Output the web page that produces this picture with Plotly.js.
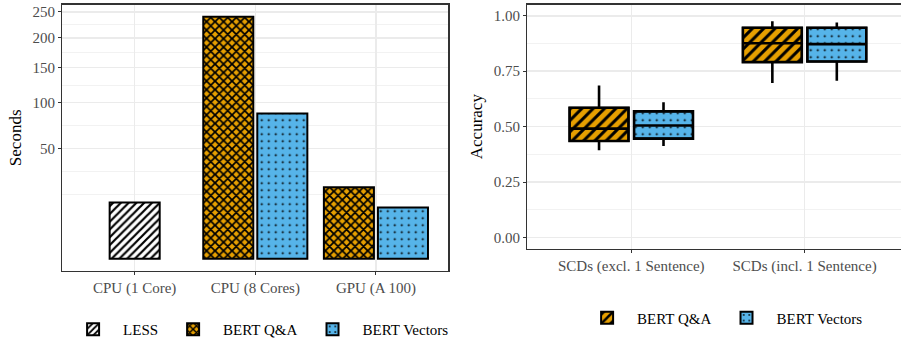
<!DOCTYPE html>
<html>
<head>
<meta charset="utf-8">
<script src="https://cdn.plot.ly/plotly-3.0.1.min.js"></script>
<style>html,body{margin:0;padding:0;background:#fff;}#chart{width:901px;height:346px;}</style>
</head>
<body>
<div id="chart"></div>
<script>
// ---- Left panel data: run time in seconds ----
const hardware = ['CPU (1 Core)', 'CPU (8 Cores)', 'GPU (A 100)'];
const lessSeconds = [13.0, null, null];
const qaSeconds = [null, 240, 21.0];
const vectorSeconds = [null, 86.4, 10.8];
const secondsTicks = [50, 100, 150, 200, 250];

// ---- Right panel data: accuracy box statistics ----
const scdSets = ['SCDs (excl. 1 Sentence)', 'SCDs (incl. 1 Sentence)'];
const qaLower = [0.393, 0.697];
const qaQ1 = [0.435, 0.791];
const qaMedian = [0.491, 0.876];
const qaQ3 = [0.585, 0.946];
const qaUpper = [0.685, 0.975];
const vecLower = [0.413, 0.707];
const vecQ1 = [0.446, 0.794];
const vecMedian = [0.505, 0.872];
const vecQ3 = [0.569, 0.946];
const vecUpper = [0.610, 0.970];
const accuracyTicks = [0, 0.25, 0.5, 0.75, 1];

const ORANGE = '#E69F00', BLUE = '#56B4E9';
const serif = 'Liberation Serif, Times New Roman, serif';
const sq = v => (v == null ? null : Math.sqrt(v));

// sqrt-scale helpers (axis transform)
const majorT = secondsTicks.map(Math.sqrt);
const ext = [majorT[0] - (majorT[1] - majorT[0])].concat(majorT, [majorT[majorT.length - 1] + (majorT[majorT.length - 1] - majorT[majorT.length - 2])]);
const minorT = [];
for (let i = 0; i < ext.length; i++) {
  if (i === 0 || i === ext.length - 1) minorT.push(ext[i]);
  if (i < ext.length - 1) minorT.push((ext[i] + ext[i + 1]) / 2);
}
const allSecs = [].concat(lessSeconds, qaSeconds, vectorSeconds).filter(v => v != null);
const maxT = Math.sqrt(Math.max(...allSecs));
const yRangeLeft = [-0.05 * maxT, 1.05 * maxT];

const barW = 0.415, barGap = 0.033;
const boxW = 0.34, boxC = 0.186;

const traces = [
  {type: 'bar', name: 'LESS', x: hardware, y: lessSeconds.map(sq), xaxis: 'x', yaxis: 'y',
   width: barW, offset: -barW / 2, legend: 'legend',
   marker: {color: 'white', line: {color: 'black', width: 2},
            pattern: {shape: '/', fgcolor: 'black', bgcolor: 'white', size: 5.5, solidity: 0.4}}},
  {type: 'bar', name: 'BERT Q&A', x: hardware, y: qaSeconds.map(sq), xaxis: 'x', yaxis: 'y',
   width: barW, offset: -barGap / 2 - barW, legend: 'legend',
   marker: {color: ORANGE, line: {color: 'black', width: 2},
            pattern: {shape: 'x', fgcolor: 'black', bgcolor: ORANGE, size: 6, solidity: 0.5}}},
  {type: 'bar', name: 'BERT Vectors', x: hardware, y: vectorSeconds.map(sq), xaxis: 'x', yaxis: 'y',
   width: barW, offset: barGap / 2, legend: 'legend',
   marker: {color: BLUE, line: {color: 'black', width: 2},
            pattern: {shape: '.', fgcolor: 'black', bgcolor: BLUE, size: 7, solidity: 0.07}}},
  // right panel patterned box bodies
  {type: 'bar', name: 'BERT Q&A', x: scdSets, base: qaQ1, y: qaQ3.map((v, i) => v - qaQ1[i]),
   xaxis: 'x2', yaxis: 'y2', width: boxW, offset: -boxC - boxW / 2, legend: 'legend2',
   marker: {color: ORANGE, line: {color: 'black', width: 2},
            pattern: {shape: '/', fgcolor: 'black', bgcolor: ORANGE, size: 8, solidity: 0.38}}},
  {type: 'bar', name: 'BERT Vectors', x: scdSets, base: vecQ1, y: vecQ3.map((v, i) => v - vecQ1[i]),
   xaxis: 'x2', yaxis: 'y2', width: boxW, offset: boxC - boxW / 2, legend: 'legend2',
   marker: {color: BLUE, line: {color: 'black', width: 2},
            pattern: {shape: '.', fgcolor: 'black', bgcolor: BLUE, size: 7, solidity: 0.07}}},
  // right panel box outlines, medians, whiskers
  {type: 'box', name: 'BERT Q&A', x: scdSets, q1: qaQ1, median: qaMedian, q3: qaQ3,
   lowerfence: qaLower, upperfence: qaUpper, xaxis: 'x2', yaxis: 'y2', showlegend: false,
   offsetgroup: 'qa', alignmentgroup: 'acc',
   fillcolor: 'rgba(0,0,0,0)', line: {color: 'black', width: 2.6}, whiskerwidth: 0, boxpoints: false, hoverinfo: 'skip'},
  {type: 'box', name: 'BERT Vectors', x: scdSets, q1: vecQ1, median: vecMedian, q3: vecQ3,
   lowerfence: vecLower, upperfence: vecUpper, xaxis: 'x2', yaxis: 'y2', showlegend: false,
   offsetgroup: 'vec', alignmentgroup: 'acc',
   fillcolor: 'rgba(0,0,0,0)', line: {color: 'black', width: 2.6}, whiskerwidth: 0, boxpoints: false, hoverinfo: 'skip'}
];

const tickFont = {family: serif, size: 15, color: '#4D4D4D'};
const titleFont = {family: serif, size: 17, color: 'black'};
const common = {
  showline: true, mirror: true, linecolor: '#333333', linewidth: 1.3,
  ticks: 'outside', ticklen: 3, tickcolor: '#333333', tickwidth: 1,
  showgrid: true, gridcolor: '#EBEBEB', gridwidth: 1.5, zeroline: false,
  tickfont: tickFont, fixedrange: true
};

const layout = {
  width: 901, height: 346,
  margin: {l: 0, r: 0, t: 0, b: 0},
  paper_bgcolor: 'white', plot_bgcolor: 'white',
  barmode: 'overlay', boxmode: 'group', boxgap: 0.256, boxgroupgap: 0.086,
  font: {family: serif, color: 'black'},
  xaxis: Object.assign({}, common, {domain: [62.3 / 901, 448.3 / 901], anchor: 'y',
    type: 'category', range: [-0.6, hardware.length - 0.4]}),
  yaxis: Object.assign({}, common, {domain: [74.3 / 346, 341.3 / 346], anchor: 'x',
    range: yRangeLeft, tickmode: 'array', tickvals: majorT, ticktext: secondsTicks.map(String),
    minor: {tickmode: 'array', tickvals: minorT, showgrid: true, gridcolor: '#EFEFEF', gridwidth: 0.8, ticks: ''},
    title: {text: 'Seconds', font: titleFont, standoff: 6}}),
  xaxis2: Object.assign({}, common, {domain: [527.3 / 901, 1], anchor: 'y2',
    type: 'category', range: [-0.6, -0.6 + (901 - 527.3) / 173.3]}),
  yaxis2: Object.assign({}, common, {domain: [96.7 / 346, 341.3 / 346], anchor: 'x2',
    range: [-0.05, 1.05], tickmode: 'array', tickvals: accuracyTicks,
    ticktext: accuracyTicks.map(v => v.toFixed(2)),
    minor: {tickmode: 'linear', tick0: 0, dtick: 0.125, showgrid: true, gridcolor: '#EFEFEF', gridwidth: 0.8, ticks: ''},
    title: {text: 'Accuracy', font: titleFont, standoff: 6}}),
  legend: {orientation: 'h', x: 0.287, xanchor: 'center', y: 16 / 346, yanchor: 'middle',
    font: {family: serif, size: 15, color: 'black'}, itemwidth: 50, bgcolor: 'rgba(0,0,0,0)'},
  legend2: {orientation: 'h', x: 0.802, xanchor: 'center', y: 28 / 346, yanchor: 'middle',
    font: {family: serif, size: 15, color: 'black'}, itemwidth: 50, bgcolor: 'rgba(0,0,0,0)'},
  showlegend: true
};

Plotly.newPlot('chart', traces, layout, {displayModeBar: false, staticPlot: true});
</script>
</body>
</html>
